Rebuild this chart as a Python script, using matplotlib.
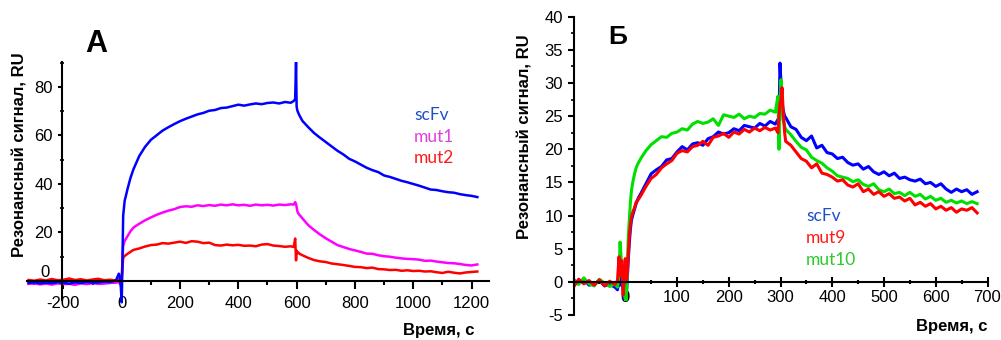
import matplotlib
matplotlib.use('Agg')
import matplotlib.pyplot as plt
from matplotlib.ticker import MultipleLocator, FuncFormatter
from matplotlib.transforms import offset_copy

plt.rcParams['font.family'] = ['Liberation Sans', 'DejaVu Sans']
plt.rcParams['axes.unicode_minus'] = False

# ---- panel A (time, s / signal, RU) ----
t_a = [-320, -300, -280, -260, -240, -220, -200, -180, -160, -140, -120, -100, -80, -60, -40, -20,
       -10, -5, 0, 5, 10, 20, 30,
       40, 60, 80, 100, 120, 140, 160, 180, 200, 220, 240, 260, 280, 300, 320, 340, 360, 380,
       400, 420, 440, 460, 480, 500, 520, 540, 560, 580,
       590, 595, 598, 600, 602, 605, 610,
       620, 640, 660, 680, 700, 720, 740, 760, 780, 800, 820, 840, 860, 880, 900, 920, 940, 960,
       980, 1000, 1020, 1040, 1060, 1080, 1100, 1120, 1140, 1160, 1180, 1200, 1220]

scfv_a = [-0.8, -0.6, -1.0, -0.7, -0.9, -0.5, -0.8, -1.1, -0.6, -0.8, -0.4, -0.7, -0.6, -0.3, -0.5, 0.2,
          3.0, 1.2, -8.8, 27.0, 33.0, 38.0, 42.5,
          46.0, 51.5, 55.3, 58.2, 60.1, 62.0, 63.4, 64.7, 65.9, 66.9, 67.8, 68.7, 69.3, 70.2, 70.5, 71.3, 71.5, 72.1,
          72.7, 72.3, 72.8, 73.2, 72.9, 73.4, 73.6, 73.2, 73.8, 73.5,
          74.2, 75.0, 90.5, 72.0, 70.5, 69.5, 68.2,
          66.0, 63.4, 61.0, 59.1, 57.3, 55.5, 53.7, 52.2, 50.4, 49.3, 48.0, 46.7, 45.7, 44.9, 43.5, 42.9, 42.1, 41.3,
          40.7, 40.0, 39.3, 38.5, 37.7, 37.5, 37.0, 36.6, 36.4, 35.8, 35.4, 35.1, 34.6]

mut1_a = [-1.2, -1.0, -1.4, -1.1, -1.5, -1.0, -1.3, -1.2, -1.6, -1.0, -1.3, -0.9, -1.2, -1.1, -0.8, -0.7,
          -0.5, -1.5, 2.0, 14.5, 16.5, 18.5, 20.5,
          22.0, 23.6, 25.0, 26.2, 27.3, 28.2, 29.0, 29.6, 30.5, 30.8, 30.6, 31.2, 30.9, 31.3, 31.0, 31.5, 31.2, 31.6,
          31.2, 31.4, 31.0, 31.5, 31.2, 31.4, 31.1, 31.5, 31.3, 31.6,
          31.5, 32.5, 31.8, 30.5, 29.0, 28.0, 27.2,
          25.8, 23.0, 21.0, 19.2, 17.6, 16.2, 14.8, 14.0, 13.2, 12.6, 12.0, 11.3, 11.2, 10.6, 10.2, 10.0, 9.6, 9.3,
          9.1, 9.0, 8.8, 8.3, 8.4, 8.0, 7.7, 7.4, 7.3, 7.0, 6.6, 6.4, 6.8]

mut2_a = [0.4, 0.1, 0.6, 0.2, 0.8, 0.3, 0.5, 1.0, 0.4, 0.7, 0.2, 0.6, 0.9, 0.3, 0.5, 0.2,
          0.8, -0.5, 1.0, 9.5, 10.3, 11.2, 12.0,
          12.8, 13.4, 14.2, 14.8, 15.0, 15.6, 15.4, 15.8, 16.2, 15.7, 16.4, 16.2, 15.6, 15.8, 14.8, 14.6, 15.0, 14.7,
          14.9, 14.5, 14.6, 14.3, 15.0, 15.2, 14.6, 14.4, 14.1, 14.3,
          14.0, 17.5, 8.5, 12.5, 11.5, 11.8, 11.2,
          10.6, 9.5, 8.6, 8.1, 7.8, 7.2, 6.9, 6.6, 6.2, 5.8, 5.7, 5.3, 5.5, 4.9, 4.8, 4.5, 4.6, 4.2,
          4.4, 4.1, 4.2, 3.9, 4.0, 3.6, 3.3, 3.8, 3.4, 3.1, 3.5, 3.7, 3.9]

# ---- panel B ----
t_b = [-100, -90, -80, -70, -60, -50, -40, -30, -20,
       -15, -12, -10, -7, -4, -2, 0, 2, 4, 6, 8, 10, 12, 15, 18, 21, 25,
       30, 40, 50, 60, 70, 80, 90, 100, 110, 120, 130, 140, 150, 160, 170, 180, 190, 200, 210, 220,
       230, 240, 250, 260, 270, 280, 290,
       295, 297, 299, 301, 303, 305, 308,
       310, 320, 330, 340, 350, 360, 370, 380, 390, 400, 410, 420, 430, 440, 450, 460, 470, 480, 490,
       500, 510, 520, 530, 540, 550, 560, 570, 580, 590, 600, 610, 620, 630, 640, 650, 660, 670, 680]

scfv_b = [0.3, -0.2, 0.4, -0.5, -0.3, 0.2, -0.6, -0.4, -0.8,
          -1.2, 0.5, -0.5, 1.0, -1.5, -2.5, -1.0, -2.2, 0.5, 3.5, 6.0, 8.0, 9.3, 10.2, 11.0, 11.8, 12.6,
          13.3, 14.8, 16.3, 16.9, 17.4, 18.4, 18.6, 19.6, 20.4, 19.9, 20.8, 21.0, 20.6, 21.6, 21.9, 22.6, 22.3, 22.5, 23.1, 22.8,
          23.6, 23.4, 23.2, 23.9, 23.5, 24.2, 23.8,
          24.5, 23.5, 33.0, 30.0, 27.0, 26.0, 25.0,
          24.8, 23.4, 23.0, 21.8, 21.3, 22.0, 20.2, 20.6, 19.5, 19.3, 18.6, 18.8, 18.0, 17.6, 17.8, 17.0, 17.4, 16.6, 16.2,
          16.6, 16.0, 16.4, 15.6, 15.8, 15.4, 15.2, 15.5, 14.8, 15.0, 14.4, 14.8, 14.0, 13.5, 14.0, 13.6, 13.9, 13.2, 13.6]

mut10_b = [0.2, -0.4, 0.6, -0.3, -0.6, 0.4, -0.2, -0.7, -0.3,
           -0.8, 1.0, 6.0, 2.5, 0.5, -2.0, -2.5, -2.7, 2.0, 7.0, 9.5, 12.0, 13.8, 15.2, 16.3, 17.2, 17.9,
           18.6, 19.8, 20.7, 21.3, 21.9, 21.8, 22.4, 22.6, 23.1, 22.9, 23.8, 24.2, 23.9, 24.1, 24.6, 23.6, 25.2, 25.0, 24.8, 25.3,
           24.6, 25.0, 24.8, 25.4, 25.3, 25.9, 25.6,
           28.0, 20.0, 26.0, 30.5, 27.5, 24.5, 23.5,
           23.0, 22.2, 21.2, 20.3, 19.9, 18.8, 18.3, 17.9, 17.2, 16.7, 16.0, 15.8, 15.6, 15.1, 15.4, 14.7, 14.4, 14.8, 13.9,
           13.6, 14.0, 13.3, 13.5, 13.0, 13.5, 12.9, 13.2, 12.5, 12.9, 12.3, 12.6, 12.0, 12.3, 11.9, 12.2, 11.8, 12.1, 11.8]

mut9_b = [-0.8, 0.4, -0.3, 0.2, -0.5, 0.3, -0.6, 0.1, -0.4,
          0.2, 3.8, 1.0, 3.2, -2.0, 0.5, 3.5, 0.0, 1.5, 4.5, 7.0, 8.8, 9.8, 10.6, 11.2, 12.0, 12.4,
          13.0, 14.4, 15.6, 16.2, 17.2, 17.8, 18.3, 19.4, 19.8, 19.6, 20.4, 20.6, 21.2, 20.6, 21.8, 22.0, 22.4, 21.8, 22.6, 22.3,
          23.0, 22.6, 23.2, 22.8, 23.3, 22.9, 23.2,
          22.5, 25.0, 27.0, 27.5, 29.3, 26.0, 22.5,
          21.2, 20.6, 19.6, 18.6, 18.2, 17.2, 17.8, 16.4, 16.2, 15.8, 15.2, 15.4, 14.6, 14.3, 14.8, 13.6, 14.0, 13.2, 13.6,
          12.9, 13.3, 12.6, 12.8, 12.2, 12.6, 11.6, 12.0, 11.4, 11.8, 11.0, 11.4, 10.8, 11.2, 10.5, 11.0, 10.8, 11.2, 10.4]

labels_a = ['scFv', 'mut1', 'mut2']
labels_b = ['scFv', 'mut9', 'mut10']

BLUE = '#0000ff'
MAGENTA = '#ff00ff'
RED = '#ff0000'
GREEN = '#00e000'
# legend text is drawn in slightly softer tones
TXT_BLUE = '#1f4fc8'
TXT_MAGENTA = '#e040e0'
TXT_RED = '#ff1a1a'
TXT_GREEN = '#2ec82e'

W, H = 1001, 340
fig = plt.figure(figsize=(W / 100, H / 100), dpi=100)


def px_rect(x0, y0, x1, y1):
  return [x0 / W, 1 - y1 / H, (x1 - x0) / W, (y1 - y0) / H]


def fig_xy(x, y):
  return x / W, 1 - y / H


# panel A
ax_a = fig.add_axes(px_rect(27, 62, 489, 304))
ax_a.plot(t_a, mut1_a, color=MAGENTA, lw=1.8)
ax_a.plot(t_a, mut2_a, color=RED, lw=1.8)
ax_a.plot(t_a, scfv_a, color=BLUE, lw=1.8)
ax_a.set_xlim(-325, 1260)
ax_a.set_ylim(-9.5, 90.3)
ax_a.spines['top'].set_visible(False)
ax_a.spines['right'].set_visible(False)
ax_a.spines['left'].set_position(('data', -205))
ax_a.spines['left'].set_bounds(-7.8, 90.3)
ax_a.spines['bottom'].set_position(('data', 0))
for s in ('left', 'bottom'):
  ax_a.spines[s].set_linewidth(1.5)
ax_a.xaxis.set_major_locator(MultipleLocator(200))
ax_a.xaxis.set_minor_locator(MultipleLocator(100))
ax_a.yaxis.set_major_locator(MultipleLocator(20))
ax_a.yaxis.set_minor_locator(MultipleLocator(10))
ax_a.yaxis.set_major_formatter(FuncFormatter(lambda v, p: '' if v == 0 else f'{v:.0f}'))
ax_a.tick_params(axis='x', which='major', direction='out', length=6, width=1.5, pad=5, labelsize=12)
ax_a.tick_params(axis='x', which='minor', direction='out', length=3, width=1.5)
ax_a.tick_params(axis='y', which='major', direction='out', length=3, width=1.5, pad=3.5, labelsize=12)
ax_a.tick_params(axis='y', which='minor', direction='inout', length=3, width=1.2)
ax_a.text(-205, 0, '0', fontsize=12, ha='right', va='center',
          transform=offset_copy(ax_a.transData, fig=fig, x=-12, y=8, units='dots'))

fig.text(*fig_xy(20, 155), 'Резонансный сигнал, RU', rotation=90, fontsize=12,
         fontweight='bold', ha='center', va='center')
fig.text(*fig_xy(439, 331), 'Время, с', fontsize=12, fontweight='bold', ha='center', va='center')
fig.text(*fig_xy(96, 44), 'А', fontsize=22, fontweight='bold', ha='center', va='center')
for lbl, col, y in zip(labels_a, [TXT_BLUE, TXT_MAGENTA, TXT_RED], [115, 137, 158]):
  fig.text(*fig_xy(414, y), lbl, color=col, fontsize=12.5, family=['Lato', 'DejaVu Sans'],
           ha='left', va='center')

# panel B
ax_b = fig.add_axes(px_rect(573.5, 16.7, 987.5, 315))
ax_b.plot(t_b, scfv_b, color=BLUE, lw=2.2)
ax_b.plot(t_b, mut10_b, color=GREEN, lw=2.2)
ax_b.plot(t_b, mut9_b, color=RED, lw=2.2)
ax_b.set_xlim(-100, 700)
ax_b.set_ylim(-5, 40)
ax_b.spines['top'].set_visible(False)
ax_b.spines['right'].set_visible(False)
ax_b.spines['bottom'].set_position(('data', 0))
for s in ('left', 'bottom'):
  ax_b.spines[s].set_linewidth(1.5)
ax_b.xaxis.set_major_locator(MultipleLocator(100))
ax_b.xaxis.set_minor_locator(MultipleLocator(50))
ax_b.yaxis.set_major_locator(MultipleLocator(5))
ax_b.yaxis.set_minor_locator(MultipleLocator(2.5))
ax_b.xaxis.set_major_formatter(FuncFormatter(lambda v, p: '' if v < 0 else f'{v:.0f}'))
ax_b.tick_params(axis='x', which='major', direction='inout', length=6.5, width=1.5, pad=2.5, labelsize=12)
ax_b.tick_params(axis='x', which='minor', direction='inout', length=3, width=1.5)
ax_b.tick_params(axis='y', which='major', direction='out', length=4, width=1.5, pad=3.5, labelsize=12)
ax_b.tick_params(axis='y', which='minor', direction='out', length=2, width=1.2)

fig.text(*fig_xy(524.5, 137), 'Резонансный сигнал, RU', rotation=90, fontsize=12,
         fontweight='bold', ha='center', va='center')
fig.text(*fig_xy(952, 327), 'Время, с', fontsize=12, fontweight='bold', ha='center', va='center')
fig.text(*fig_xy(618, 37), 'Б', fontsize=19, fontweight='bold', ha='center', va='center')
for lbl, col, y in zip(labels_b, [TXT_BLUE, TXT_RED, TXT_GREEN], [216, 238, 260]):
  fig.text(*fig_xy(806, y), lbl, color=col, fontsize=12.5, family=['Lato', 'DejaVu Sans'],
           ha='left', va='center')

fig.savefig('out.png', dpi=100)
